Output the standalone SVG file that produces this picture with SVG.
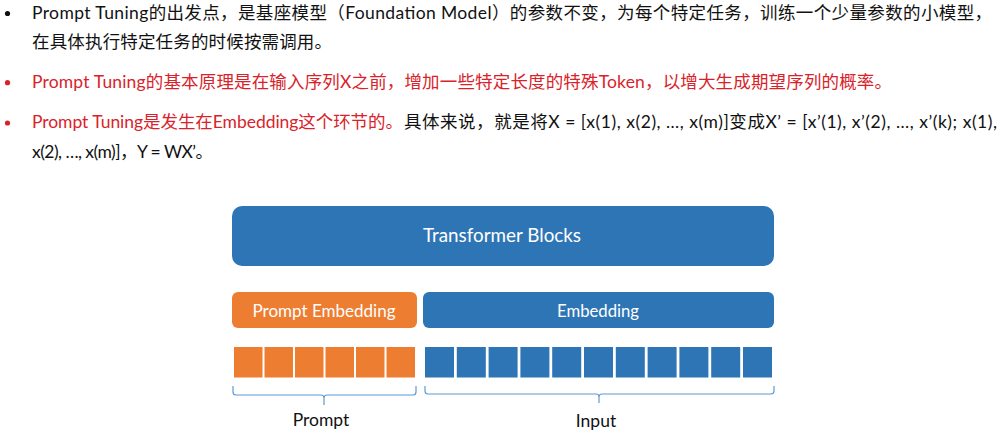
<svg xmlns="http://www.w3.org/2000/svg" width="1006" height="434" viewBox="0 0 1006 434">
<style>
.t{font-family:"Lato","Noto Sans CJK SC",sans-serif;font-size:17.5px;fill:#111}
.r{fill:#D9232B}
.lbl{font-family:"Lato","Noto Sans CJK SC",sans-serif;fill:#fff;text-anchor:middle}
.cap{font-family:"Lato","Noto Sans CJK SC",sans-serif;fill:#111;font-size:17.5px;text-anchor:middle}
.blue{fill:#2E75B6}
.orange{fill:#ED7D31}
.brace{fill:none;stroke:#5B9BD5;stroke-width:1.2}
</style>
<rect width="1006" height="434" fill="#fff"/>
<g id="bullets">
<circle cx="7.5" cy="13.5" r="2.6" fill="#111"/>
<circle cx="7.5" cy="82.7" r="2.6" fill="#D9232B"/>
<circle cx="7.5" cy="123" r="2.6" fill="#D9232B"/>
</g>
<g id="text">
<text class="t" x="32" y="19" textLength="960" lengthAdjust="spacing">Prompt  Tuning的出发点，是基座模型（Foundation  Model）的参数不变，为每个特定任务，训练一个少量参数的小模型，</text>
<text class="t" x="32" y="48" textLength="300" lengthAdjust="spacing">在具体执行特定任务的时候按需调用。</text>
<text class="t r" x="32" y="88" textLength="860" lengthAdjust="spacing">Prompt Tuning的基本原理是在输入序列X之前，增加一些特定长度的特殊Token，以增大生成期望序列的概率。</text>
<text class="t" x="32" y="128"><tspan class="r" textLength="371" lengthAdjust="spacing">Prompt  Tuning是发生在Embedding这个环节的。</tspan><tspan x="404" textLength="593" lengthAdjust="spacing">具体来说，就是将X = [x(1), x(2), …, x(m)]变成X’ = [x’(1), x’(2), …, x’(k); x(1),</tspan></text>
<text class="t" x="32" y="158" textLength="181" lengthAdjust="spacing">x(2), …, x(m)]，Y = WX’。</text>
</g>
<g id="transformer-blocks">
<rect class="blue" x="232" y="206" width="542" height="60" rx="10"/>
<text class="lbl" x="502" y="242" font-size="18.5" textLength="158" lengthAdjust="spacingAndGlyphs">Transformer Blocks</text>
</g>
<g id="prompt-embedding">
<rect class="orange" x="232" y="292" width="185" height="36" rx="6"/>
<text class="lbl" x="324" y="317" font-size="16.5" textLength="143" lengthAdjust="spacingAndGlyphs">Prompt Embedding</text>
</g>
<g id="embedding">
<rect class="blue" x="423" y="292" width="351" height="36" rx="6"/>
<text class="lbl" x="598" y="317" font-size="16.5" textLength="82" lengthAdjust="spacingAndGlyphs">Embedding</text>
</g>
<g id="prompt-tokens" class="orange">
<rect x="234" y="347" width="28.5" height="30.5"/>
<rect x="264.5" y="347" width="28.5" height="30.5"/>
<rect x="295" y="347" width="28.5" height="30.5"/>
<rect x="325.5" y="347" width="28.5" height="30.5"/>
<rect x="356" y="347" width="28.5" height="30.5"/>
<rect x="386.5" y="347" width="28.5" height="30.5"/>
</g>
<g id="input-tokens" class="blue">
<rect x="425" y="347" width="29" height="30.5"/>
<rect x="456.8" y="347" width="29" height="30.5"/>
<rect x="488.6" y="347" width="29" height="30.5"/>
<rect x="520.4" y="347" width="29" height="30.5"/>
<rect x="552.2" y="347" width="29" height="30.5"/>
<rect x="584" y="347" width="29" height="30.5"/>
<rect x="615.8" y="347" width="29" height="30.5"/>
<rect x="647.6" y="347" width="29" height="30.5"/>
<rect x="679.4" y="347" width="29" height="30.5"/>
<rect x="711.2" y="347" width="29" height="30.5"/>
<rect x="743" y="347" width="29" height="30.5"/>
</g>
<g id="connectors">
<path class="brace" d="M233 386 V392 Q233 395 236 395 H321 Q324 395 324 398 V405 M324 398 Q324 395 327 395 H413 Q416 395 416 392 V386"/>
<path class="brace" d="M425 386 V391 Q425 394 428 394 H596 Q599 394 599 397 V403 M599 397 Q599 394 602 394 H771 Q774 394 774 391 V386"/>
</g>
<g id="prompt-label">
<text class="cap" x="321" y="426">Prompt</text>
</g>
<g id="input-label">
<text class="cap" x="596" y="427">Input</text>
</g>
</svg>
